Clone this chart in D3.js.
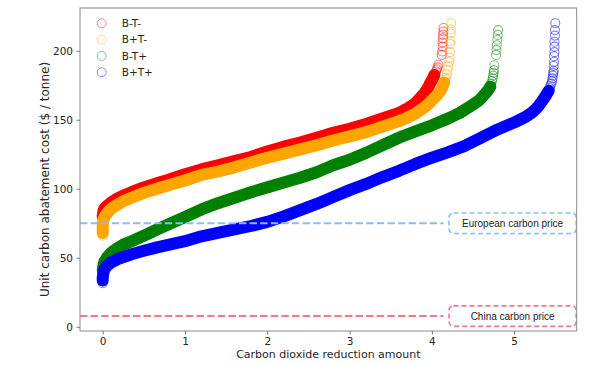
<!DOCTYPE html>
<html>
<head>
<meta charset="utf-8">
<script src="https://cdn.jsdelivr.net/npm/d3@7"></script>
<style>
  body { margin: 0; background: #fff; }
  svg { display: block; font-family: "DejaVu Sans", sans-serif; }
</style>
</head>
<body>
<svg width="595" height="365"></svg>
<script>
// values

const seriesNames = ["B-T-", "B+T-", "B-T+", "B+T+"];
const seriesColors = ["#ff0000", "#ffa500", "#008000", "#0000ff"];

// B-T-
const xBmTm = [0, 0, 0.005, 0.01, 0.02, 0.05, 0.1, 0.18, 0.25, 0.35, 0.5, 0.66, 0.8, 1.0, 1.2, 1.4, 1.6, 1.8, 2.0, 2.2, 2.4, 2.6, 2.8, 3.0, 3.2, 3.4, 3.6, 3.7, 3.8, 3.86, 3.9, 3.93, 3.96, 3.98, 4.0, 4.02, 4.03, 4.05, 4.06, 4.07, 4.08, 4.12, 4.125, 4.13, 4.13, 4.135, 4.135, 4.14, 4.14];
const yBmTm = [78, 80, 82, 84, 85.5, 87.5, 90, 93, 95, 97.5, 101, 104, 106.5, 110.5, 114, 117, 120, 123, 127, 130.5, 133.5, 137, 140.5, 143.5, 147, 151, 155, 158, 162, 166, 168.5, 171, 174, 176.5, 178.5, 181, 182.5, 185, 186.5, 188, 190, 197, 199.5, 203, 206, 209, 211.5, 214, 216.5];

// B+T-
const xBpTm = [0, 0, 0, 0, 0.005, 0.01, 0.02, 0.05, 0.1, 0.18, 0.25, 0.35, 0.5, 0.66, 0.8, 1.0, 1.2, 1.4, 1.6, 1.8, 2.0, 2.2, 2.4, 2.6, 2.8, 3.0, 3.2, 3.4, 3.6, 3.7, 3.8, 3.9, 3.96, 4.0, 4.05, 4.08, 4.1, 4.12, 4.13, 4.14, 4.15, 4.16, 4.17, 4.18, 4.19, 4.2, 4.21, 4.215, 4.22, 4.225, 4.225, 4.23, 4.23, 4.235];
const yBpTm = [66, 68, 70, 72.5, 75, 77.5, 79.5, 82, 85.5, 88.5, 91, 93.5, 97, 100, 102.5, 106, 110, 112.5, 115.5, 119, 122.5, 125.5, 128.5, 131.5, 135, 138, 141, 145, 149, 151.5, 154.5, 158.5, 161.5, 164, 167, 169, 170.5, 172.5, 174, 175.5, 177, 179, 180.5, 183, 186, 188.5, 192, 195, 199, 205, 207, 212.5, 215.5, 220];

// B-T+
const xBmTp = [0, 0.005, 0.01, 0.02, 0.05, 0.1, 0.18, 0.25, 0.35, 0.5, 0.66, 0.85, 1.0, 1.2, 1.4, 1.6, 1.8, 2.0, 2.2, 2.4, 2.6, 2.8, 3.0, 3.2, 3.4, 3.6, 3.8, 4.0, 4.2, 4.34, 4.46, 4.51, 4.55, 4.59, 4.62, 4.65, 4.67, 4.69, 4.71, 4.72, 4.73, 4.74, 4.745, 4.75, 4.755, 4.76, 4.78, 4.785, 4.79, 4.795, 4.8, 4.805];
const yBmTp = [41, 43, 45, 47, 50, 53.5, 57, 59.5, 62, 66, 70.5, 75.5, 79.5, 85, 89.5, 93.5, 97.5, 101, 104.5, 108, 112, 117, 121, 126, 131.5, 137, 141.5, 146, 151, 155, 159.5, 161.5, 163, 165, 167, 169, 170.5, 172, 174, 176, 178, 180, 182, 184, 186, 189.5, 197, 200.5, 204, 208, 211.5, 215];

// B+T+
const xBpTp = [0, 0, 0, 0.005, 0.01, 0.02, 0.05, 0.1, 0.18, 0.25, 0.35, 0.5, 0.66, 0.85, 1.0, 1.2, 1.4, 1.6, 1.8, 2.0, 2.2, 2.4, 2.6, 2.8, 3.0, 3.2, 3.4, 3.6, 3.8, 4.0, 4.2, 4.4, 4.6, 4.8, 5.0, 5.15, 5.2, 5.25, 5.29, 5.32, 5.35, 5.38, 5.4, 5.42, 5.43, 5.44, 5.45, 5.46, 5.465, 5.47, 5.475, 5.48, 5.48, 5.485, 5.485, 5.49, 5.49, 5.49, 5.495, 5.495, 5.5];
const yBpTp = [31.5, 33.5, 35.5, 37.5, 39.5, 41.5, 44, 46.5, 49, 50.5, 52.5, 55, 57.5, 60, 62, 65.5, 68, 70.5, 73, 76, 80, 84.5, 89, 94, 99, 103.5, 108.5, 113, 118, 122.5, 126.5, 131, 137, 143, 148, 152.5, 154.5, 157, 159.5, 162, 164.5, 167, 169, 171, 173, 174.5, 176, 178, 180, 182, 184, 185.5, 189, 192, 196, 199, 203, 206.5, 211, 215, 220];

const xTicks = [0, 1, 2, 3, 4, 5];
const yTicks = [0, 50, 100, 150, 200];

const priceNames = ["European carbon price", "China carbon price"];
const priceValues = [75, 7.7];
const priceColors = ["#88bdf8", "#f2788e"];

// ---------------------------------------------------------------

const seriesX = [xBmTm, xBpTm, xBmTp, xBpTp];
const seriesY = [yBmTm, yBpTm, yBmTp, yBpTp];
const series = seriesNames.map((name, i) => ({
    name: name,
    color: seriesColors[i],
    points: seriesX[i].map((v, j) => [v, seriesY[i][j]])
}));

// range where the markers overlap into one solid band
const solidFrom = [80, 68, 41, 33];
const solidUpTo = [184, 178, 174, 172];

const mLeft = 80, mRight = 576.7, mTop = 8, mBottom = 331;

const svg = d3.select("svg");

const x = d3.scaleLinear().domain([-0.276, 5.76]).range([mLeft, mRight]);
const y = d3.scaleLinear().domain([-3.1, 231]).range([mBottom, mTop]);

svg.append("clipPath").attr("id", "plot")
    .append("rect")
    .attr("x", mLeft).attr("y", mTop)
    .attr("width", mRight - mLeft).attr("height", mBottom - mTop);

const plot = svg.append("g").attr("clip-path", "url(#plot)");

const line = d3.line()
    .x(d => x(d[0]))
    .y(d => y(d[1]));

series.forEach((s, i) => {
    const g = plot.append("g");
    g.append("path")
        .datum(s.points.filter(d => d[1] >= solidFrom[i] && d[1] <= solidUpTo[i]))
        .attr("d", line)
        .attr("fill", "none")
        .attr("stroke", s.color)
        .attr("stroke-width", 12)
        .attr("stroke-linecap", "round")
        .attr("stroke-linejoin", "round");
    g.selectAll("circle")
        .data(s.points)
        .enter()
        .append("circle")
        .attr("cx", d => x(d[0]))
        .attr("cy", d => y(d[1]))
        .attr("r", 4.5)
        .attr("fill", "none")
        .attr("stroke", s.color)
        .attr("stroke-opacity", 0.5)
        .attr("stroke-width", 1.1);
});

// carbon price reference lines with their labels
const lineEnd = 4.14;
priceValues.forEach((p, i) => {
    plot.append("line")
        .attr("x1", mLeft)
        .attr("x2", x(lineEnd))
        .attr("y1", y(p))
        .attr("y2", y(p))
        .attr("stroke", priceColors[i])
        .attr("stroke-width", 2)
        .attr("stroke-dasharray", "7.4,3.2");

    const bx = 449, bw = mRight - 0.5 - bx, bh = 20.5;
    plot.append("rect")
        .attr("x", bx)
        .attr("y", y(p) - bh / 2)
        .attr("width", bw)
        .attr("height", bh)
        .attr("rx", 4.5)
        .attr("fill", "#fff")
        .attr("stroke", priceColors[i])
        .attr("stroke-width", 1.6)
        .attr("stroke-dasharray", "5,3");

    plot.append("text")
        .attr("x", bx + bw / 2)
        .attr("y", y(p))
        .attr("dy", "0.35em")
        .attr("text-anchor", "middle")
        .style("font-family", "'Liberation Sans', Arial, sans-serif")
        .style("font-size", "10px")
        .attr("fill", "#222")
        .text(priceNames[i]);
});

// axes
const xAxis = svg.append("g")
    .attr("transform", `translate(0, ${mBottom})`)
    .call(d3.axisBottom(x).tickValues(xTicks).tickFormat(d3.format("d")).tickSize(3.5).tickPadding(3));

const yAxis = svg.append("g")
    .attr("transform", `translate(${mLeft}, 0)`)
    .call(d3.axisLeft(y).tickValues(yTicks).tickFormat(d3.format("d")).tickSize(3.5).tickPadding(3.5));

[xAxis, yAxis].forEach(a => {
    a.select(".domain").remove();
    a.selectAll("line").attr("stroke", "#777");
    a.selectAll("text")
        .attr("fill", "#262626")
        .style("font-family", "'DejaVu Sans', sans-serif")
        .style("font-size", "10.5px");
});

svg.append("rect")
    .attr("x", mLeft).attr("y", mTop)
    .attr("width", mRight - mLeft).attr("height", mBottom - mTop)
    .attr("fill", "none")
    .attr("stroke", "#8a8a8a")
    .attr("stroke-width", 1);

svg.append("text")
    .attr("x", (mLeft + mRight) / 2)
    .attr("y", 358)
    .attr("text-anchor", "middle")
    .attr("fill", "#262626")
    .style("font-size", "11px")
    .text("Carbon dioxide reduction amount");

svg.append("text")
    .attr("transform", `translate(45, 179.5) rotate(-90)`)
    .attr("dy", "0.35em")
    .attr("text-anchor", "middle")
    .attr("fill", "#262626")
    .style("font-size", "12px")
    .text("Unit carbon abatement cost ($ / tonne)");

// legend
const legend = svg.append("g");
series.forEach((s, i) => {
    const ly = 23.3 + i * 16.3;
    legend.append("circle")
        .attr("cx", 101.7)
        .attr("cy", ly)
        .attr("r", 4.5)
        .attr("fill", "none")
        .attr("stroke", s.color)
        .attr("stroke-opacity", 0.45)
        .attr("stroke-width", 1);
    legend.append("text")
        .attr("x", 121.7)
        .attr("y", ly)
        .attr("dy", "0.35em")
        .attr("fill", "#262626")
        .style("font-size", "10.5px")
        .text(s.name);
});
</script>
</body>
</html>
